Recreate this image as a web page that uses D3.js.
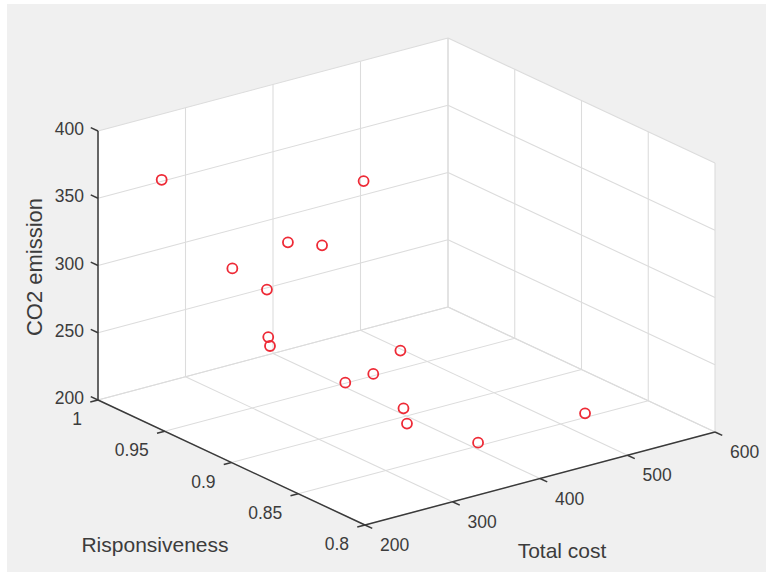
<!DOCTYPE html>
<html>
<head>
<meta charset="utf-8">
<script src="https://cdn.jsdelivr.net/npm/d3@7"></script>
<style>
  html, body { margin: 0; padding: 0; background: #ffffff; }
  svg { display: block; font-family: "Liberation Sans", Arial, sans-serif; }
</style>
</head>
<body>
<div id="chart"></div>
<script>
// values (cost, responsiveness, CO2 per solution)
const totalCost      = [227, 412, 295, 334, 262, 271, 242, 244, 332, 301, 269, 305, 309, 375, 482];
const responsiveness = [0.970, 0.940, 0.920, 0.920, 0.940, 0.920, 0.900, 0.900, 0.860, 0.860, 0.860, 0.840, 0.840, 0.830, 0.820];
const co2Emission    = [373, 354, 338, 329, 315, 307, 286, 279, 279, 267, 266, 250, 238, 217, 225];

const costTicks = [200, 300, 400, 500, 600];
const respTicks = [0.8, 0.85, 0.9, 0.95, 1];
const co2Ticks  = [200, 250, 300, 350, 400];

const W = 766, H = 572;
// screen placement of the 3D box: origin corner + one vector per axis
const ORIGIN = [365, 525];
const EX = [350, -93];
const EY = [-267, -125];
const EZ = [0, -269];
const TICK = 8;

const COLORS = { bg: '#f0f0f0', wall: '#ffffff', grid: '#dcdcdc', axis: '#3a3a3a', text: '#3c3c3c', marker: '#ee2a36' };

const xs = d3.scaleLinear().domain([200, 600]).range([0, 1]);
const ys = d3.scaleLinear().domain([0.8, 1]).range([0, 1]);
const zs = d3.scaleLinear().domain([200, 400]).range([0, 1]);

function proj(u, v, w) {
  return [
    ORIGIN[0] + u * EX[0] + v * EY[0] + w * EZ[0],
    ORIGIN[1] + u * EX[1] + v * EY[1] + w * EZ[1],
  ];
}

function unit(vec) {
  const l = Math.hypot(vec[0], vec[1]);
  return [vec[0] / l, vec[1] / l];
}

const svg = d3.select('#chart').append('svg')
  .attr('width', W)
  .attr('height', H);

svg.append('rect')
  .attr('x', 7).attr('y', 4)
  .attr('width', W - 7).attr('height', H - 4)
  .attr('fill', COLORS.bg);

// back panes
const panes = [
  [[0, 0, 0], [1, 0, 0], [1, 1, 0], [0, 1, 0]],
  [[0, 1, 0], [1, 1, 0], [1, 1, 1], [0, 1, 1]],
  [[1, 0, 0], [1, 1, 0], [1, 1, 1], [1, 0, 1]],
];
svg.append('g').selectAll('polygon')
  .data(panes)
  .join('polygon')
  .attr('points', (d) => d.map((p) => proj(...p).join(',')).join(' '))
  .attr('fill', COLORS.wall);

// grid lines
const gridSegs = [];
costTicks.forEach((t) => {
  const u = xs(t);
  gridSegs.push([[u, 0, 0], [u, 1, 0]]);
  gridSegs.push([[u, 1, 0], [u, 1, 1]]);
});
respTicks.forEach((t) => {
  const v = ys(t);
  gridSegs.push([[0, v, 0], [1, v, 0]]);
  gridSegs.push([[1, v, 0], [1, v, 1]]);
});
co2Ticks.forEach((t) => {
  const w = zs(t);
  gridSegs.push([[0, 1, w], [1, 1, w]]);
  gridSegs.push([[1, 0, w], [1, 1, w]]);
});

svg.append('g').selectAll('line')
  .data(gridSegs)
  .join('line')
  .attr('x1', (d) => proj(...d[0])[0])
  .attr('y1', (d) => proj(...d[0])[1])
  .attr('x2', (d) => proj(...d[1])[0])
  .attr('y2', (d) => proj(...d[1])[1])
  .attr('stroke', COLORS.grid)
  .attr('stroke-width', 1.1);

// axes: x along v=0,w=0 ; y along u=0,w=0 ; z along u=0,v=1
const axes = [
  { ticks: costTicks, scale: xs, at: (s) => proj(s, 0, 0), tickDir: unit([-EY[0], -EY[1]]),
    anchor: 'start', off: [15, 20] },
  { ticks: respTicks, scale: ys, at: (s) => proj(0, s, 0), tickDir: unit([-EX[0], -EX[1]]),
    anchor: 'end', off: [-16, 19] },
  { ticks: co2Ticks, scale: zs, at: (s) => proj(0, 1, s), tickDir: unit(EY),
    anchor: 'end', off: [-14, -2] },
];

const axisG = svg.append('g');
axes.forEach((ax) => {
  const a = ax.at(0), b = ax.at(1);
  axisG.append('line')
    .attr('x1', a[0]).attr('y1', a[1])
    .attr('x2', b[0]).attr('y2', b[1])
    .attr('stroke', COLORS.axis)
    .attr('stroke-width', 1.5);

  const g = axisG.append('g');
  g.selectAll('line')
    .data(ax.ticks)
    .join('line')
    .attr('x1', (t) => ax.at(ax.scale(t))[0])
    .attr('y1', (t) => ax.at(ax.scale(t))[1])
    .attr('x2', (t) => ax.at(ax.scale(t))[0] + ax.tickDir[0] * TICK)
    .attr('y2', (t) => ax.at(ax.scale(t))[1] + ax.tickDir[1] * TICK)
    .attr('stroke', COLORS.axis)
    .attr('stroke-width', 1.5);

  g.selectAll('text')
    .data(ax.ticks)
    .join('text')
    .attr('x', (t) => ax.at(ax.scale(t))[0] + ax.off[0])
    .attr('y', (t) => ax.at(ax.scale(t))[1] + ax.off[1])
    .attr('text-anchor', ax.anchor)
    .attr('dominant-baseline', 'central')
    .attr('font-size', '17.5px')
    .attr('fill', COLORS.text)
    .text((t) => t);
});

// axis titles
svg.append('text')
  .attr('x', 562).attr('y', 550)
  .attr('text-anchor', 'middle')
  .attr('dominant-baseline', 'central')
  .attr('font-size', '21px')
  .attr('fill', COLORS.text)
  .text('Total cost');

svg.append('text')
  .attr('x', 155).attr('y', 544)
  .attr('text-anchor', 'middle')
  .attr('dominant-baseline', 'central')
  .attr('font-size', '21px')
  .attr('fill', COLORS.text)
  .text('Risponsiveness');

svg.append('text')
  .attr('transform', 'translate(34,267) rotate(-90)')
  .attr('text-anchor', 'middle')
  .attr('dominant-baseline', 'central')
  .attr('font-size', '22px')
  .attr('fill', COLORS.text)
  .text('CO2 emission');

// data markers
const points = totalCost.map((c, i) => ({ c, r: responsiveness[i], e: co2Emission[i] }));
svg.append('g').selectAll('circle')
  .data(points)
  .join('circle')
  .attr('cx', (d) => proj(xs(d.c), ys(d.r), zs(d.e))[0])
  .attr('cy', (d) => proj(xs(d.c), ys(d.r), zs(d.e))[1])
  .attr('r', 5)
  .attr('fill', 'none')
  .attr('stroke', COLORS.marker)
  .attr('stroke-width', 1.8);
</script>
</body>
</html>
